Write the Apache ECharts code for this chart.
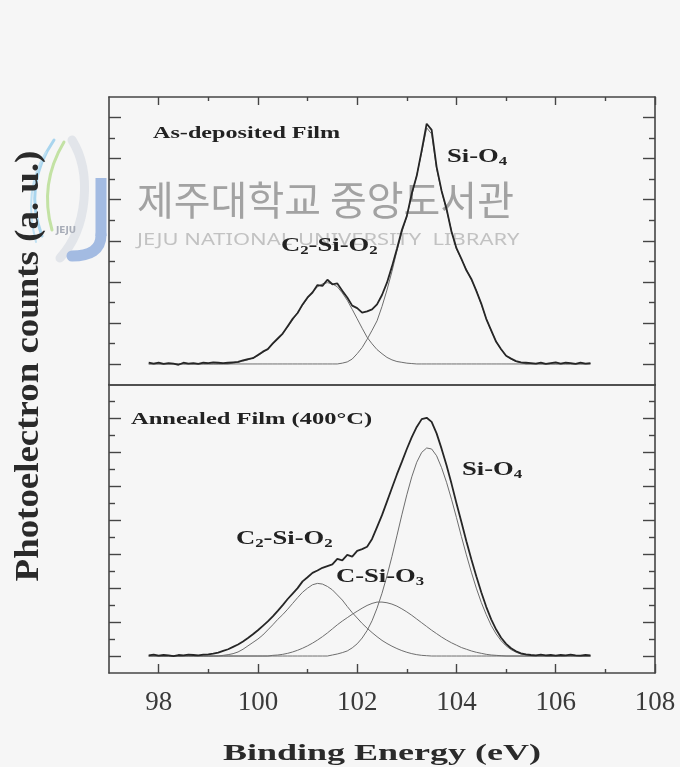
<!DOCTYPE html>
<html>
<head>
<meta charset="utf-8">
<script src="https://cdn.jsdelivr.net/npm/echarts@6/dist/echarts.min.js"></script>
<style>
  html, body { margin: 0; padding: 0; background: #f6f6f6; }
  #chart { width: 680px; height: 767px; }
</style>
</head>
<body>
<div id="chart"></div>
<script>
// Binding energy sampling (eV), shared by both spectra
const energy = [
  97.8, 97.9, 98.0, 98.1, 98.2, 98.3, 98.4, 98.5, 98.6, 98.7,
  98.8, 98.9, 99.0, 99.1, 99.2, 99.3, 99.4, 99.5, 99.6, 99.7,
  99.8, 99.9, 100.0, 100.1, 100.2, 100.3, 100.4, 100.5, 100.6, 100.7,
  100.8, 100.9, 101.0, 101.1, 101.2, 101.3, 101.4, 101.5, 101.6, 101.7,
  101.8, 101.9, 102.0, 102.1, 102.2, 102.3, 102.4, 102.5, 102.6, 102.7,
  102.8, 102.9, 103.0, 103.1, 103.2, 103.3, 103.4, 103.5, 103.6, 103.7,
  103.8, 103.9, 104.0, 104.1, 104.2, 104.3, 104.4, 104.5, 104.6, 104.7,
  104.8, 104.9, 105.0, 105.1, 105.2, 105.3, 105.4, 105.5, 105.6, 105.7,
  105.8, 105.9, 106.0, 106.1, 106.2, 106.3, 106.4, 106.5, 106.6, 106.7
];

// As-deposited film: measured spectrum and fitted components (a.u.)
const depositedTotal = [
  0.03, 0.01, 0.03, 0.00, 0.02, 0.01, -0.02, 0.03, 0.01, 0.02,
  0.00, 0.03, 0.02, 0.04, 0.03, 0.02, 0.03, 0.04, 0.05, 0.09,
  0.12, 0.14, 0.22, 0.30, 0.36, 0.50, 0.62, 0.74, 0.92, 1.10,
  1.24, 1.45, 1.62, 1.74, 1.92, 1.90, 2.05, 1.94, 1.96, 1.78,
  1.62, 1.42, 1.36, 1.25, 1.28, 1.33, 1.45, 1.68, 1.98, 2.37,
  2.80, 3.26, 3.60, 4.15, 4.58, 5.20, 5.85, 5.70, 4.80, 4.22,
  3.78, 3.22, 2.82, 2.56, 2.28, 2.07, 1.78, 1.47, 1.10, 0.82,
  0.54, 0.36, 0.20, 0.13, 0.07, 0.04, 0.03, 0.02, 0.01, 0.03,
  0.00, 0.02, 0.04, 0.01, 0.03, 0.02, 0.00, 0.03, 0.01, 0.02
];
const depositedC2SiO2 = [
  0, 0, 0, 0, 0, 0, 0, 0, 0, 0,
  0, 0, 0, 0, 0, 0, 0, 0.02, 0.04, 0.07,
  0.10, 0.15, 0.20, 0.28, 0.37, 0.48, 0.60, 0.75, 0.90, 1.07,
  1.25, 1.43, 1.60, 1.75, 1.88, 1.95, 1.98, 1.95, 1.88, 1.73,
  1.55, 1.33, 1.10, 0.87, 0.65, 0.49, 0.35, 0.25, 0.16, 0.10,
  0.06, 0.04, 0.02, 0.01, 0, 0, 0, 0, 0, 0,
  0, 0, 0, 0, 0, 0, 0, 0, 0, 0,
  0, 0, 0, 0, 0, 0, 0, 0, 0, 0,
  0, 0, 0, 0, 0, 0, 0, 0, 0, 0
];
const depositedSiO4 = [
  0, 0, 0, 0, 0, 0, 0, 0, 0, 0,
  0, 0, 0, 0, 0, 0, 0, 0, 0, 0,
  0, 0, 0, 0, 0, 0, 0, 0, 0, 0,
  0, 0, 0, 0, 0, 0, 0, 0, 0, 0.02,
  0.05, 0.12, 0.25, 0.40, 0.60, 0.82, 1.05, 1.40, 1.80, 2.25,
  2.75, 3.20, 3.60, 4.10, 4.60, 5.15, 5.75, 5.60, 4.75, 4.20,
  3.75, 3.25, 2.80, 2.55, 2.30, 2.05, 1.80, 1.45, 1.10, 0.80,
  0.55, 0.35, 0.20, 0.12, 0.06, 0.03, 0, 0, 0, 0,
  0, 0, 0, 0, 0, 0, 0, 0, 0, 0
];

// Annealed film (400 °C): measured spectrum and fitted components (a.u.)
const annealedTotal = [
  0.02, 0.04, 0.01, 0.03, 0.02, 0.00, 0.03, 0.02, 0.04, 0.03,
  0.02, 0.04, 0.05, 0.07, 0.10, 0.15, 0.20, 0.27, 0.34, 0.43,
  0.53, 0.64, 0.76, 0.89, 1.02, 1.17, 1.33, 1.50, 1.68, 1.84,
  2.00, 2.20, 2.32, 2.45, 2.52, 2.60, 2.65, 2.70, 2.86, 2.82,
  2.98, 2.93, 3.10, 3.15, 3.22, 3.45, 3.80, 4.15, 4.55, 4.95,
  5.35, 5.72, 6.10, 6.45, 6.75, 6.98, 7.02, 6.90, 6.56, 6.11,
  5.62, 5.08, 4.50, 3.95, 3.38, 2.85, 2.35, 1.88, 1.45, 1.08,
  0.78, 0.54, 0.36, 0.23, 0.14, 0.08, 0.05, 0.03, 0.02, 0.04,
  0.02, 0.03, 0.01, 0.03, 0.02, 0.04, 0.02, 0.01, 0.03, 0.02
];
const annealedC2SiO2 = [
  0, 0, 0, 0, 0, 0, 0, 0, 0, 0,
  0, 0, 0, 0, 0, 0.02, 0.04, 0.07, 0.12, 0.20,
  0.30, 0.40, 0.50, 0.62, 0.77, 0.92, 1.08, 1.22, 1.38, 1.55,
  1.72, 1.88, 2.00, 2.10, 2.14, 2.12, 2.05, 1.95, 1.80, 1.65,
  1.46, 1.28, 1.12, 0.96, 0.82, 0.69, 0.57, 0.46, 0.37, 0.29,
  0.22, 0.16, 0.11, 0.07, 0.04, 0.02, 0.01, 0, 0, 0,
  0, 0, 0, 0, 0, 0, 0, 0, 0, 0,
  0, 0, 0, 0, 0, 0, 0, 0, 0, 0,
  0, 0, 0, 0, 0, 0, 0, 0, 0, 0
];
const annealedCSiO3 = [
  0, 0, 0, 0, 0, 0, 0, 0, 0, 0,
  0, 0, 0, 0, 0, 0, 0, 0, 0, 0,
  0, 0, 0, 0, 0, 0.02, 0.03, 0.05, 0.08, 0.12,
  0.17, 0.23, 0.30, 0.38, 0.47, 0.57, 0.68, 0.80, 0.92, 1.03,
  1.13, 1.23, 1.32, 1.41, 1.49, 1.55, 1.59, 1.59, 1.57, 1.53,
  1.47, 1.39, 1.30, 1.20, 1.09, 0.98, 0.87, 0.76, 0.66, 0.56,
  0.47, 0.39, 0.32, 0.25, 0.20, 0.15, 0.11, 0.08, 0.05, 0.03,
  0.02, 0.01, 0, 0, 0, 0, 0, 0, 0, 0,
  0, 0, 0, 0, 0, 0, 0, 0, 0, 0
];
const annealedSiO4 = [
  0, 0, 0, 0, 0, 0, 0, 0, 0, 0,
  0, 0, 0, 0, 0, 0, 0, 0, 0, 0,
  0, 0, 0, 0, 0, 0, 0, 0, 0, 0,
  0, 0, 0, 0, 0, 0, 0, 0.03, 0.06, 0.10,
  0.15, 0.24, 0.36, 0.53, 0.75, 1.04, 1.41, 1.85, 2.36, 2.93,
  3.54, 4.16, 4.75, 5.28, 5.71, 6.00, 6.13, 6.10, 5.90, 5.55,
  5.12, 4.62, 4.08, 3.52, 2.98, 2.47, 2.00, 1.58, 1.22, 0.90,
  0.65, 0.45, 0.30, 0.19, 0.11, 0.06, 0.03, 0.01, 0, 0,
  0, 0, 0, 0, 0, 0, 0, 0, 0, 0
];

// Tick positions
const energyMajorTicks = [98, 100, 102, 104, 106, 108];
const energyMinorTicks = [99, 101, 103, 105, 107];
const depositedMajorTicks = [0, 1, 2, 3, 4, 5, 6];
const depositedMinorTicks = [0.5, 1.5, 2.5, 3.5, 4.5, 5.5];
const annealedMajorTicks = [0, 1, 2, 3, 4, 5, 6, 7];
const annealedMinorTicks = [0.5, 1.5, 2.5, 3.5, 4.5, 5.5, 6.5, 7.5];

const FRAME = '#454545';
const SERIF = 'Liberation Serif';

function pairs(values) {
  return energy.map((e, i) => [e, values[i]]);
}

function xAxisDef(grid, position, o) {
  return {
    gridIndex: grid, type: 'value', min: 97, max: 108, position: position,
    axisLine: { show: !!o.line, onZero: false, lineStyle: { color: FRAME, width: 1.6 } },
    axisTick: o.ticks
      ? { show: true, inside: true, length: o.len, customValues: o.ticks,
          lineStyle: { color: FRAME, width: 1.4 } }
      : { show: false },
    axisLabel: o.labels
      ? { show: true, customValues: o.labels, margin: 16, color: '#3a3a3a',
          fontFamily: SERIF, fontSize: 27 }
      : { show: false },
    splitLine: { show: false }
  };
}

function yAxisDef(grid, position, min, max, o) {
  return {
    gridIndex: grid, type: 'value', min: min, max: max, position: position,
    axisLine: { show: !!o.line, onZero: false, lineStyle: { color: FRAME, width: 1.6 } },
    axisTick: { show: true, inside: true, length: o.len, customValues: o.ticks,
                lineStyle: { color: FRAME, width: 1.4 } },
    axisLabel: { show: false },
    splitLine: { show: false }
  };
}

function lineSeries(xIdx, yIdx, values, heavy) {
  return {
    type: 'line', xAxisIndex: xIdx, yAxisIndex: yIdx,
    data: pairs(values), symbol: 'none', smooth: false,
    lineStyle: heavy ? { color: '#262626', width: 1.8 } : { color: '#6e6e6e', width: 1 },
    z: heavy ? 4 : 3, silent: true
  };
}

function chemText(x, y, content) {
  const base = { fontFamily: SERIF, fontWeight: 'bold', fontSize: 19, lineHeight: 26, fill: '#222' };
  return {
    type: 'text', x: x, y: y, scaleX: 1.4, z: 10,
    style: {
      text: content, fontFamily: SERIF, fontWeight: 'bold', fontSize: 19, fill: '#222',
      align: 'left', verticalAlign: 'middle', textAlign: 'left', textVerticalAlign: 'middle',
      rich: {
        b: base,
        s: { fontFamily: SERIF, fontWeight: 'bold', fontSize: 12, lineHeight: 14,
             padding: [10, 0, 0, 0], fill: '#222' }
      }
    }
  };
}

function plainText(x, y, text, size, extra) {
  return Object.assign({
    type: 'text', x: x, y: y, z: 10,
    style: {
      text: text, fontFamily: SERIF, fontWeight: 'bold', fontSize: size, fill: '#222',
      align: 'left', verticalAlign: 'middle', textAlign: 'left', textVerticalAlign: 'middle'
    }
  }, extra || {});
}

function curve(x1, y1, c1x, c1y, c2x, c2y, x2, y2, color, width) {
  return {
    type: 'bezierCurve', z: 1, silent: true,
    shape: { x1: x1, y1: y1, cpx1: c1x, cpy1: c1y, cpx2: c2x, cpy2: c2y, x2: x2, y2: y2 },
    style: { fill: 'none', stroke: color, lineWidth: width, lineCap: 'round' }
  };
}

const chart = echarts.init(document.getElementById('chart'), null, { renderer: 'canvas' });

chart.setOption({
  backgroundColor: '#f6f6f6',
  animation: false,
  grid: [
    { left: 109, top: 97, width: 546, height: 287.5 },
    { left: 109, top: 384.5, width: 546, height: 288.5 }
  ],
  xAxis: [
    xAxisDef(0, 'bottom', { line: true }),
    xAxisDef(0, 'top', { line: true, ticks: energyMajorTicks, len: 8 }),
    xAxisDef(0, 'top', { ticks: energyMinorTicks, len: 4 }),
    xAxisDef(1, 'bottom', { line: true, ticks: energyMajorTicks, len: 9, labels: energyMajorTicks }),
    xAxisDef(1, 'bottom', { ticks: energyMinorTicks, len: 4 }),
    xAxisDef(1, 'top', { line: true })
  ],
  yAxis: [
    yAxisDef(0, 'left', -0.5, 6.5, { line: true, ticks: depositedMajorTicks, len: 12 }),
    yAxisDef(0, 'left', -0.5, 6.5, { ticks: depositedMinorTicks, len: 6 }),
    yAxisDef(0, 'right', -0.5, 6.5, { line: true, ticks: depositedMajorTicks, len: 12 }),
    yAxisDef(0, 'right', -0.5, 6.5, { ticks: depositedMinorTicks, len: 6 }),
    yAxisDef(1, 'left', -0.5, 8, { line: true, ticks: annealedMajorTicks, len: 12 }),
    yAxisDef(1, 'left', -0.5, 8, { ticks: annealedMinorTicks, len: 6 }),
    yAxisDef(1, 'right', -0.5, 8, { line: true, ticks: annealedMajorTicks, len: 12 }),
    yAxisDef(1, 'right', -0.5, 8, { ticks: annealedMinorTicks, len: 6 })
  ],
  series: [
    lineSeries(0, 0, depositedC2SiO2, false),
    lineSeries(0, 0, depositedSiO4, false),
    lineSeries(0, 0, depositedTotal, true),
    lineSeries(3, 4, annealedC2SiO2, false),
    lineSeries(3, 4, annealedCSiO3, false),
    lineSeries(3, 4, annealedSiO4, false),
    lineSeries(3, 4, annealedTotal, true)
  ],
  graphic: [
    // library watermark
    curve(72, 140, 92, 172, 88, 228, 60, 258, '#e2e5ea', 9),
    curve(54, 140, 32, 172, 30, 204, 42, 236, '#a9d5ee', 3),
    curve(64, 142, 46, 172, 44, 202, 52, 230, '#c3e2a4', 3),
    curve(46, 152, 28, 182, 28, 212, 36, 242, '#bfe0f2', 2),
    { type: 'line', z: 1, silent: true, shape: { x1: 101, y1: 178, x2: 101, y2: 236 },
      style: { stroke: '#a3bbe2', lineWidth: 11 } },
    curve(101, 235, 101, 250, 90, 256, 72, 256, '#a3bbe2', 11),
    { type: 'text', x: 66, y: 231, z: 1,
      style: { text: 'JEJU', fontFamily: 'DejaVu Sans', fontWeight: 'bold', fontSize: 9,
               fill: '#a8adb8', align: 'center', verticalAlign: 'middle',
               textAlign: 'center', textVerticalAlign: 'middle' } },
    { type: 'text', x: 137, y: 200, z: 1,
      style: { text: '제주대학교 중앙도서관', fontFamily: 'Noto Sans CJK KR', fontSize: 40,
               fill: '#a2a2a2', align: 'left', verticalAlign: 'middle',
               textAlign: 'left', textVerticalAlign: 'middle' } },
    { type: 'text', x: 137, y: 240, z: 1, scaleX: 1.29,
      style: { text: 'JEJU NATIONAL UNIVERSITY  LIBRARY', fontFamily: 'Noto Sans', fontSize: 17,
               fill: '#c2c2c2', align: 'left', verticalAlign: 'middle',
               textAlign: 'left', textVerticalAlign: 'middle' } },

    // panel titles and peak assignments
    plainText(153, 133, 'As-deposited Film', 17.5, { scaleX: 1.38 }),
    plainText(131, 419, 'Annealed Film (400°C)', 17.5, { scaleX: 1.4 }),
    chemText(447, 157, '{b|Si-O}{s|4}'),
    chemText(281, 246, '{b|C}{s|2}{b|-Si-O}{s|2}'),
    chemText(462, 470, '{b|Si-O}{s|4}'),
    chemText(236, 539, '{b|C}{s|2}{b|-Si-O}{s|2}'),
    chemText(336, 577, '{b|C-Si-O}{s|3}'),

    // axis titles
    { type: 'text', x: 29, y: 366, rotation: Math.PI / 2, scaleX: 1.23, scaleY: 1.15, z: 10,
      style: { text: 'Photoelectron counts (a. u.)', fontFamily: SERIF, fontWeight: 'bold',
               fontSize: 30, fill: '#2a2a2a', align: 'center', verticalAlign: 'middle',
               textAlign: 'center', textVerticalAlign: 'middle' } },
    { type: 'text', x: 382, y: 754, scaleX: 1.5, z: 10,
      style: { text: 'Binding Energy (eV)', fontFamily: SERIF, fontWeight: 'bold',
               fontSize: 24, fill: '#2a2a2a', align: 'center', verticalAlign: 'middle',
               textAlign: 'center', textVerticalAlign: 'middle' } }
  ]
});
</script>
</body>
</html>
